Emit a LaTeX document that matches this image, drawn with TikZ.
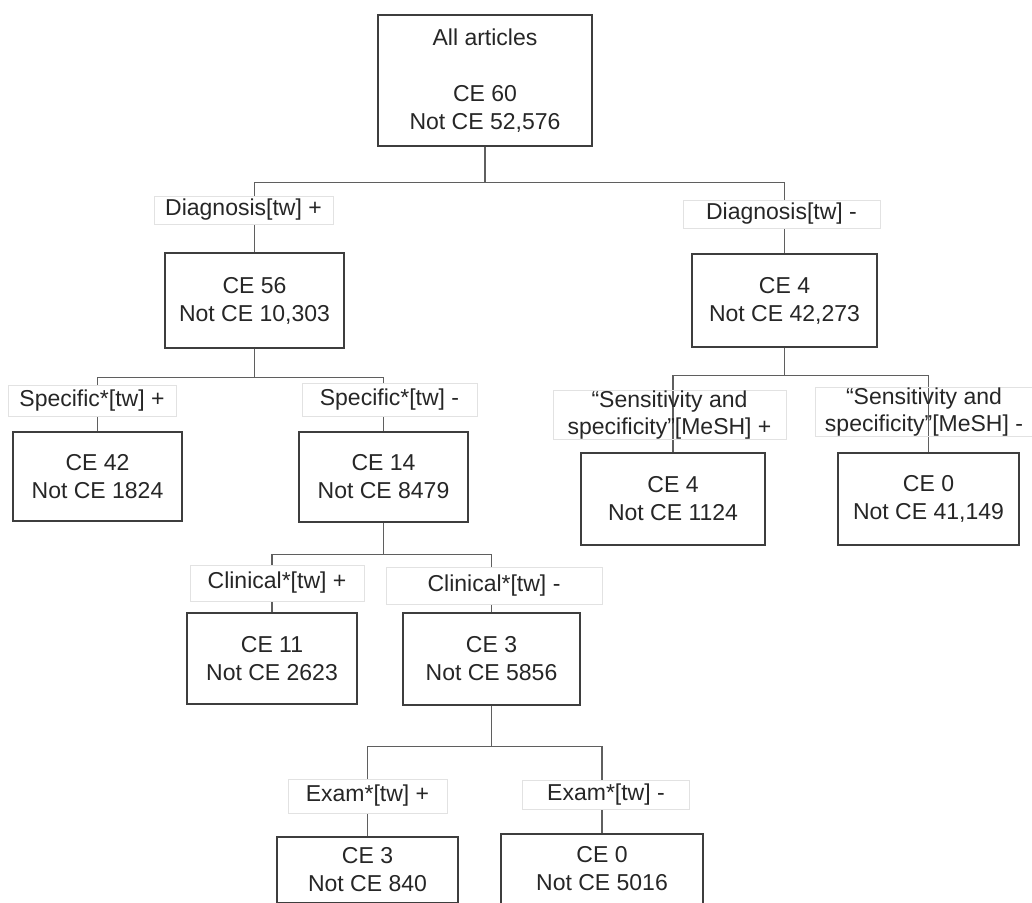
\documentclass[tikz,border=0pt]{standalone}
\usepackage{fontspec}
\setmainfont{Liberation Sans}
\definecolor{ceframe}{RGB}{62,62,62}
\definecolor{celink}{RGB}{95,95,95}
\definecolor{celabel}{RGB}{226,226,226}
\definecolor{cetext}{RGB}{38,38,38}
\tikzset{
  ebox/.style={draw=ceframe, line width=1.3pt, align=center, inner sep=0pt,
    text=cetext, font=\fontsize{23}{28}\selectfont},
  elabel/.style={draw=celabel, line width=0.9pt, fill=white, align=center, inner sep=0pt,
    text=cetext, font=\fontsize{23}{27}\selectfont},
  elabelopen/.style={elabel, fill=none},
  elink/.style={draw=celink, line width=1.3pt}
}
\begin{document}
\begin{tikzpicture}[x=1pt,y=-1pt]
  \useasboundingbox (0,0) rectangle (1032,902);
  \clip (0,0) rectangle (1032,902);
  % boxes
  \node[ebox,minimum width=214,minimum height=131] (all) at (485,80.5) {All articles\\[28pt]CE 60\\Not CE 52,576};
  \node[ebox,minimum width=179,minimum height=95] (d1) at (254.5,300.5) {CE 56\\Not CE 10,303};
  \node[ebox,minimum width=185,minimum height=93] (d0) at (784.5,300.5) {CE 4\\Not CE 42,273};
  \node[ebox,minimum width=169,minimum height=89] (s1) at (97.5,476.5) {CE 42\\Not CE 1824};
  \node[ebox,minimum width=169,minimum height=90] (s0) at (383.5,477) {CE 14\\Not CE 8479};
  \node[ebox,minimum width=170,minimum height=91] (c1) at (272,658.5) {CE 11\\Not CE 2623};
  \node[ebox,minimum width=177,minimum height=92] (c0) at (491.5,659) {CE 3\\Not CE 5856};
  \node[ebox,minimum width=184,minimum height=92] (m1) at (673,499) {CE 4\\Not CE 1124};
  \node[ebox,minimum width=181,minimum height=92] (m0) at (928.5,499) {CE 0\\Not CE 41,149};
  \node[ebox,minimum width=181,minimum height=66] (e1) at (367.5,870) {CE 3\\Not CE 840};
  \node[ebox,minimum width=202,minimum height=70] (e0) at (602,869) {CE 0\\Not CE 5016};
  % connectors
  \draw[elink] (all.south) -- ++(0,36) coordinate (j1);
  \draw[elink] (d1.north) |- (j1) -| (d0.north);
  \draw[elink] (d1.south) -- ++(0,29) coordinate (j2);
  \draw[elink] (s1.north) |- (j2) -| (s0.north);
  \draw[elink] (d0.south) -- ++(0,28) coordinate (j3);
  \draw[elink] (m1.north) |- (j3) -| (m0.north);
  \draw[elink] (s0.south) -- ++(0,32) coordinate (j4);
  \draw[elink] (c1.north) |- (j4) -| (c0.north);
  \draw[elink] (c0.south) -- ++(0,41) coordinate (j5);
  \draw[elink] (e1.north) |- (j5) -| (e0.north);
  % labels
  \node[elabel,minimum width=179,minimum height=28] (dxp) at (243.5,210) {Diagnosis[tw] +};
  \node[elabel,minimum width=197,minimum height=28] (dxm) at (781.5,214) {Diagnosis[tw] -};
  \node[elabel,minimum width=168,minimum height=31] (spp) at (92,400.5) {Specific*[tw] +};
  \node[elabel,minimum width=175,minimum height=33] (spm) at (389.5,399.5) {Specific*[tw] -};
  \node[elabel,minimum width=174,minimum height=36] (clp) at (277,583) {Clinical*[tw] +};
  \node[elabel,minimum width=216,minimum height=37] (clm) at (494,585.5) {Clinical*[tw] -};
  \node[elabel,minimum width=159,minimum height=34] (exp) at (367.5,796) {Exam*[tw] +};
  \node[elabel,minimum width=167,minimum height=29] (exm) at (606,794.5) {Exam*[tw] -};
  \node[elabelopen,minimum width=233,minimum height=43] (ssp) at (669.5,415) {“Sensitivity and\\specificity”[MeSH] +};
  \node[elabelopen,minimum width=217,minimum height=45] (ssm) at (924,412) {“Sensitivity and\\specificity”[MeSH] -};
\end{tikzpicture}
\end{document}
